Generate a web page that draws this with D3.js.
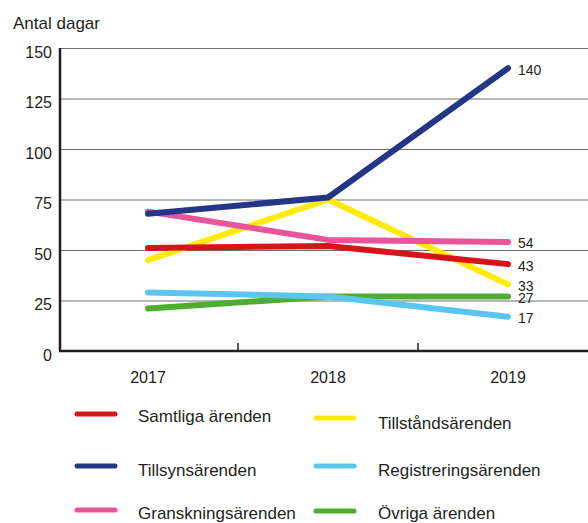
<!DOCTYPE html>
<html>
<head>
<meta charset="utf-8">
<script src="https://cdn.jsdelivr.net/npm/d3@7"></script>
<style>
  body { margin: 0; background: #fff; }
  svg text { font-family: "Liberation Sans", Arial, Helvetica, sans-serif; fill: #231f20; }
</style>
</head>
<body>
<svg id="chart" width="588" height="523"></svg>
<script>
var years = ["2017", "2018", "2019"];
var yTicks = [0, 25, 50, 75, 100, 125, 150];

var samtliga = [51, 52, 43];
var tillstand = [45, 75, 33];
var tillsyn = [68, 76, 140];
var registrering = [29, 27, 17];
var granskning = [69, 55, 54];
var ovriga = [21, 27, 27];

var seriesNames = ["Samtliga ärenden", "Tillståndsärenden", "Tillsynsärenden",
                   "Registreringsärenden", "Granskningsärenden", "Övriga ärenden"];
var seriesValues = [samtliga, tillstand, tillsyn, registrering, granskning, ovriga];
var seriesColors = ["#d7141a", "#ffec00", "#253588", "#5bc5f2", "#e9559b", "#4fae32"];
// draw order (bottom first): green, blue, yellow, pink, red, navy
var drawOrder = [5, 3, 1, 4, 0, 2];

var svg = d3.select("#chart");

var plotL = 60, plotR = 588, plotT = 48, plotB = 351;

var y = d3.scaleLinear().domain([0, 150]).range([plotB, plotT]);
var x = d3.scaleBand().domain(years).range([58, 598]).padding(0);
var cx = function(d) { return x(d) + x.bandwidth() / 2; };

// title
svg.append("text").attr("x", 13).attr("y", 29).text("Antal dagar")
   .style("font-size", "17px");

// y axis + gridlines
var yAxis = svg.append("g").attr("transform", "translate(" + plotL + ",0)")
   .call(d3.axisLeft(y).tickValues(yTicks).tickSize(-(plotR - plotL)).tickPadding(8));
yAxis.select(".domain").remove();
yAxis.selectAll("line").attr("stroke", "#6d6e71").attr("stroke-width", 1.2);
yAxis.selectAll("text").attr("dy", "0.32em").attr("y", 4)
   .style("font-size", "16px").attr("fill", "#231f20");

// x axis
var xAxis = svg.append("g").attr("transform", "translate(0," + plotB + ")")
   .call(d3.axisBottom(x).tickSize(0).tickPadding(21));
xAxis.select(".domain").remove();
xAxis.selectAll("text").style("font-size", "16px").attr("fill", "#231f20");

// inner ticks between years
svg.append("g").selectAll("line").data(years.slice(1)).enter().append("line")
   .attr("x1", function(d) { return x(d); }).attr("x2", function(d) { return x(d); })
   .attr("y1", plotB).attr("y2", plotB - 8)
   .attr("stroke", "#231f20").attr("stroke-width", 1.5);

// axis lines
svg.append("line").attr("x1", plotL).attr("x2", plotL).attr("y1", plotT).attr("y2", plotB)
   .attr("stroke", "#231f20").attr("stroke-width", 2.5);
svg.append("line").attr("x1", plotL - 1).attr("x2", plotR).attr("y1", plotB).attr("y2", plotB)
   .attr("stroke", "#231f20").attr("stroke-width", 2.5);

// lines
var line = d3.line().x(function(d, i) { return cx(years[i]); }).y(function(d) { return y(d); });
drawOrder.forEach(function(k) {
  svg.append("path").datum(seriesValues[k]).attr("d", line)
     .attr("fill", "none").attr("stroke", seriesColors[k]).attr("stroke-width", 6)
     .attr("stroke-linecap", "round").attr("stroke-linejoin", "round");
});

// end value labels
[2, 4, 0, 1, 5, 3].forEach(function(k) {
  var v = seriesValues[k][2];
  svg.append("text").attr("x", cx("2019") + 10).attr("y", y(v) + 1.5)
     .attr("dominant-baseline", "central").text(v).style("font-size", "14px");
});

// legend
var legendCols = [[77, 138], [316, 378]];
var legendRows = [[414, 422], [418, 429], [466, 476], [466, 476], [510, 519], [511, 519]];
seriesNames.forEach(function(name, k) {
  var col = legendCols[k % 2];
  var row = legendRows[k];
  svg.append("line").attr("x1", col[0]).attr("x2", col[0] + 38)
     .attr("y1", row[0]).attr("y2", row[0])
     .attr("stroke", seriesColors[k]).attr("stroke-width", 5).attr("stroke-linecap", "round");
  svg.append("text").attr("x", col[1]).attr("y", row[1]).text(name).style("font-size", "17px");
});
</script>
</body>
</html>
